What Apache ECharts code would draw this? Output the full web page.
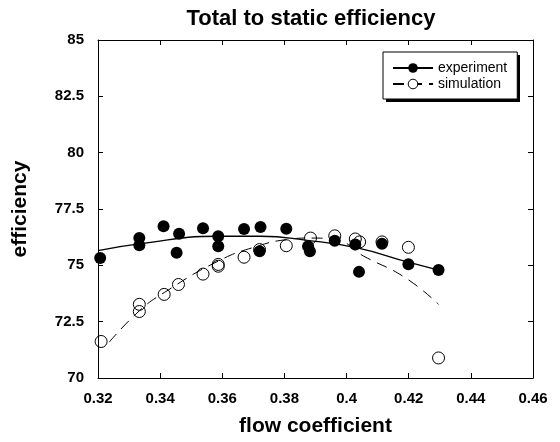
<!DOCTYPE html>
<html>
<head>
<meta charset="utf-8">
<script src="https://cdn.jsdelivr.net/npm/echarts@6/dist/echarts.min.js"></script>
<style>
  html, body { margin: 0; padding: 0; background: #fff; }
  #chart { width: 560px; height: 442px; }
</style>
</head>
<body>
<div id="chart"></div>
<script>
// measured points (flow coefficient, efficiency)
const expX = [0.3207, 0.3333, 0.3333, 0.3411, 0.3461, 0.3453, 0.3538, 0.3587, 0.3587, 0.3670, 0.3723,
              0.3720, 0.3806, 0.3876, 0.3882, 0.3962, 0.4028, 0.4040, 0.4114, 0.4199, 0.4296];
const expY = [75.33, 76.21, 75.89, 76.73, 76.40, 75.56, 76.65, 76.29, 75.85, 76.61, 76.70,
              75.63, 76.62, 75.85, 75.63, 76.09, 75.92, 74.71, 75.96, 75.05, 74.79];
const simX = [0.3210, 0.3333, 0.3333, 0.3413, 0.3459, 0.3538, 0.3587, 0.3587, 0.3670, 0.3720,
              0.3806, 0.3884, 0.3962, 0.4028, 0.4042, 0.4114, 0.4199, 0.4296];
const simY = [71.62, 73.27, 72.95, 73.71, 74.15, 74.61, 75.04, 74.96, 75.36, 75.70,
              75.87, 76.21, 76.31, 76.17, 76.04, 76.04, 75.80, 70.89];

// fitted curves
const expFitX = [0.3200, 0.3333, 0.3587, 0.3723, 0.3873, 0.4034, 0.4199, 0.4296];
const expFitY = [75.65, 75.95, 76.29, 76.29, 76.11, 75.77, 75.14, 74.79];
const simFitX = [0.3236, 0.3333, 0.3413, 0.3587, 0.3713, 0.3806, 0.3884, 0.3964, 0.4055, 0.4189, 0.4296];
const simFitY = [71.59, 72.98, 73.79, 75.19, 75.85, 76.14, 76.21, 76.14, 75.41, 74.45, 73.27];

const zip = (xs, ys) => xs.map((x, i) => [x, ys[i]]);

const chart = echarts.init(document.getElementById('chart'));

const font = 'Liberation Sans, Arial, sans-serif';
const tickStyle = { show: true, inside: true, length: 5, lineStyle: { color: '#000', width: 1 } };

const option = {
    animation: false,
    backgroundColor: '#fff',
    title: {
        text: 'Total to static efficiency',
        left: 306,
        textAlign: 'center',
        top: 3,
        textStyle: { fontFamily: font, fontSize: 22, fontWeight: 'bold', color: '#000' }
    },
    // drop shadow behind the legend box
    graphic: [{
        type: 'rect',
        left: 386,
        top: 55,
        shape: { width: 134, height: 47 },
        style: { fill: '#000' },
        z: 3
    }],
    legend: {
        data: [
            { name: 'experiment', itemStyle: { color: '#000' } },
            { name: 'simulation', itemStyle: { color: '#fff', borderColor: '#000', borderWidth: 1 } }
        ],
        orient: 'vertical',
        left: 383,
        top: 52,
        z: 5,
        itemWidth: 40,
        itemHeight: 12,
        itemGap: 2,
        padding: [9, 10, 8, 9],
        backgroundColor: '#fff',
        borderColor: '#000',
        borderWidth: 1,
        textStyle: { fontFamily: font, fontSize: 14, color: '#000' }
    },
    grid: { left: 98, right: 27, top: 40, bottom: 62 },
    xAxis: [
        {
            type: 'value', min: 0.32, max: 0.46, interval: 0.02,
            name: 'flow coefficient', nameLocation: 'middle', nameGap: 38,
            nameTextStyle: { fontFamily: font, fontSize: 21, fontWeight: 'bold', color: '#000' },
            axisLine: { show: true, lineStyle: { color: '#000', width: 1 } },
            axisTick: tickStyle,
            axisLabel: { fontFamily: font, fontSize: 15, fontWeight: 'bold', color: '#000', margin: 13 },
            splitLine: { show: false }
        },
        {
            type: 'value', min: 0.32, max: 0.46, interval: 0.02, position: 'top',
            axisLine: { show: true, lineStyle: { color: '#000', width: 1 } },
            axisTick: tickStyle,
            axisLabel: { show: false },
            splitLine: { show: false }
        }
    ],
    yAxis: [
        {
            type: 'value', min: 70, max: 85, interval: 2.5,
            name: 'efficiency', nameLocation: 'middle', nameGap: 67,
            nameTextStyle: { fontFamily: font, fontSize: 21, fontWeight: 'bold', color: '#000' },
            axisLine: { show: true, lineStyle: { color: '#000', width: 1 } },
            axisTick: tickStyle,
            axisLabel: { fontFamily: font, fontSize: 15, fontWeight: 'bold', color: '#000', margin: 14 },
            splitLine: { show: false }
        },
        {
            type: 'value', min: 70, max: 85, interval: 2.5, position: 'right',
            axisLine: { show: true, lineStyle: { color: '#000', width: 1 } },
            axisTick: tickStyle,
            axisLabel: { show: false },
            splitLine: { show: false }
        }
    ],
    series: [
        {
            name: 'experiment',
            type: 'line',
            smooth: true,
            symbol: 'circle',
            showSymbol: false,
            data: zip(expFitX, expFitY),
            lineStyle: { color: '#000', width: 1.3 },
            itemStyle: { color: '#000' },
            z: 2
        },
        {
            name: 'simulation',
            type: 'line',
            smooth: true,
            symbol: 'circle',
            showSymbol: false,
            data: zip(simFitX, simFitY),
            lineStyle: { color: '#000', width: 1, type: [11, 7] },
            itemStyle: { color: '#fff', borderColor: '#000' },
            z: 2
        },
        {
            name: 'experiment points',
            type: 'scatter',
            symbol: 'circle',
            symbolSize: 12,
            data: zip(expX, expY),
            itemStyle: { color: '#000', opacity: 1 },
            z: 3
        },
        {
            name: 'simulation points',
            type: 'scatter',
            symbol: 'circle',
            symbolSize: 12,
            data: zip(simX, simY),
            itemStyle: { color: 'rgba(255,255,255,0)', borderColor: '#000', borderWidth: 1, opacity: 1 },
            z: 4
        }
    ]
};

chart.setOption(option);
</script>
</body>
</html>
